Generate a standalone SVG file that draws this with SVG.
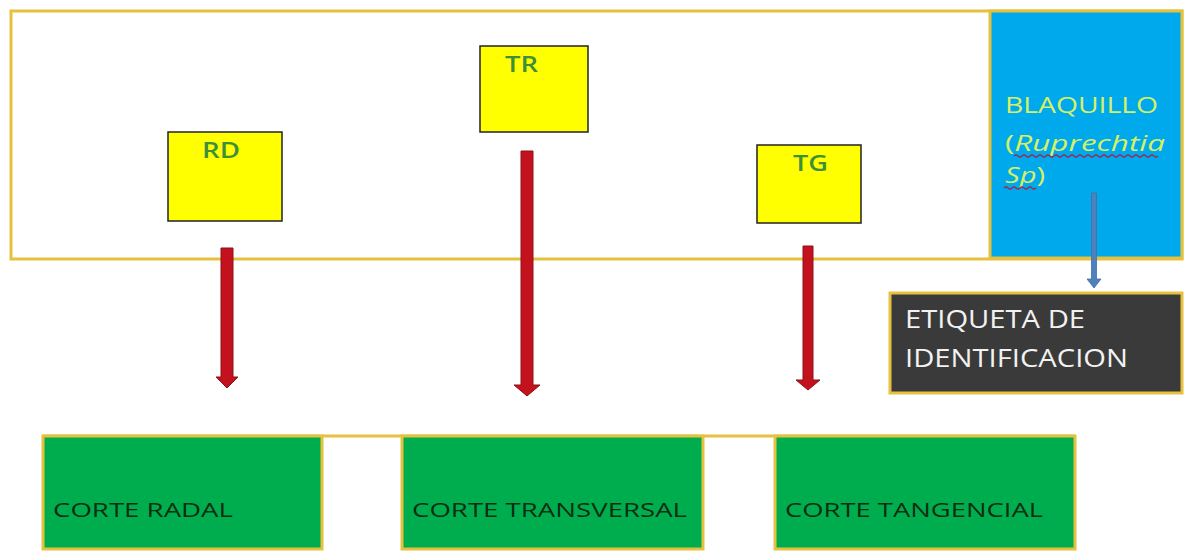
<svg xmlns="http://www.w3.org/2000/svg" width="1185" height="552" viewBox="0 0 1185 552">
<style>
  .gold { fill: none; stroke: #E5C13E; stroke-width: 3; }
  .ybox { fill: #FFFF00; stroke: #222222; stroke-width: 1.5; }
  .ylab { font-family: "Open Sans", "Liberation Sans", Arial, sans-serif; font-size: 21px; font-weight: 600; fill: #3E8F3A; }
  .gbox { fill: #00AD4E; stroke: #E5C13E; stroke-width: 3; }
  .glab { font-family: "Open Sans", "Liberation Sans", Arial, sans-serif; font-size: 20px; fill: #0E2E12; }
  .blab { font-family: "Open Sans", "Liberation Sans", Arial, sans-serif; font-size: 21px; fill: #D6F066; }
  .dlab { font-family: "Open Sans", "Liberation Sans", Arial, sans-serif; font-size: 26px; fill: #F2F2F2; }
  .red { fill: #C3121E; stroke: #8E1018; stroke-width: 1; }
</style>
<rect x="0" y="0" width="1185" height="552" fill="#FFFFFF"/>

<g id="frame">
  <rect class="gold" x="11" y="11" width="1171" height="248"/>
</g>

<g id="blaquillo">
  <rect x="990" y="11" width="192" height="247" fill="#00A9EC" stroke="#E5C13E" stroke-width="3"/>
  <text class="blab" x="1005" y="113" textLength="153" lengthAdjust="spacingAndGlyphs">BLAQUILLO</text>
  <text class="blab" x="1005" y="151" textLength="160" lengthAdjust="spacingAndGlyphs">(<tspan font-style="italic">Ruprechtia</tspan></text>
  <text class="blab" x="1005" y="183" textLength="40" lengthAdjust="spacingAndGlyphs"><tspan font-style="italic">Sp</tspan>)</text>
  <path d="M1014 156 q2 -2 4 0 t4 0 t4 0 t4 0 t4 0 t4 0 t4 0 t4 0 t4 0 t4 0 t4 0 t4 0 t4 0 t4 0 t4 0 t4 0 t4 0 t4 0 t4 0 t4 0 t4 0 t4 0 t4 0 t4 0 t4 0 t4 0 t4 0 t4 0 t4 0 t4 0 t4 0 t4 0 t4 0 t4 0 t4 0 t4 0" fill="none" stroke="#9B2A5A" stroke-width="1.2"/>
  <path d="M1004 188 q2 -2 4 0 t4 0 t4 0 t4 0 t4 0 t4 0 t4 0 t4 0" fill="none" stroke="#9B2A5A" stroke-width="1.2"/>
</g>

<g id="rd">
  <rect class="ybox" x="168" y="132" width="114" height="89"/>
  <text class="ylab" x="202" y="158" textLength="38" lengthAdjust="spacingAndGlyphs">RD</text>
</g>
<g id="tr">
  <rect class="ybox" x="480" y="46" width="108" height="86"/>
  <text class="ylab" x="505" y="72" textLength="33" lengthAdjust="spacingAndGlyphs">TR</text>
</g>
<g id="tg">
  <rect class="ybox" x="757" y="145" width="104" height="78"/>
  <text class="ylab" x="793" y="171" textLength="35" lengthAdjust="spacingAndGlyphs">TG</text>
</g>

<g id="etiqueta">
  <rect x="890" y="293" width="292" height="100" fill="#3A3A3A" stroke="#E5C13E" stroke-width="3"/>
  <text class="dlab" x="905" y="328" textLength="180" lengthAdjust="spacingAndGlyphs">ETIQUETA DE</text>
  <text class="dlab" x="905" y="367" textLength="223" lengthAdjust="spacingAndGlyphs">IDENTIFICACION</text>
</g>

<g id="cortes-line">
  <line x1="43" y1="436" x2="1075" y2="436" stroke="#E5C13E" stroke-width="3"/>
</g>
<g id="corte-radal">
  <rect class="gbox" x="43" y="436" width="279" height="113"/>
  <text class="glab" x="53" y="517" textLength="180" lengthAdjust="spacingAndGlyphs">CORTE RADAL</text>
</g>
<g id="corte-transversal">
  <rect class="gbox" x="402" y="436" width="301" height="113"/>
  <text class="glab" x="412" y="517" textLength="275" lengthAdjust="spacingAndGlyphs">CORTE TRANSVERSAL</text>
</g>
<g id="corte-tangencial">
  <rect class="gbox" x="775" y="436" width="300" height="113"/>
  <text class="glab" x="785" y="517" textLength="258" lengthAdjust="spacingAndGlyphs">CORTE TANGENCIAL</text>
</g>

<g id="connectors">
  <path class="red" d="M221 248 H233 V377 H238 L227 388 L216 377 H221 Z"/>
  <path class="red" d="M521 151 H533 V385 H540 L527 396 L514 385 H521 Z"/>
  <path class="red" d="M803 246 H813 V380 H820 L808 390 L796 380 H803 Z"/>
  <path d="M1091.5 193 H1096.5 V279 H1101 L1094 288 L1087 279 H1091.5 Z" fill="#4F81BD" stroke="#3F6FA5" stroke-width="0.8"/>
</g>
</svg>
